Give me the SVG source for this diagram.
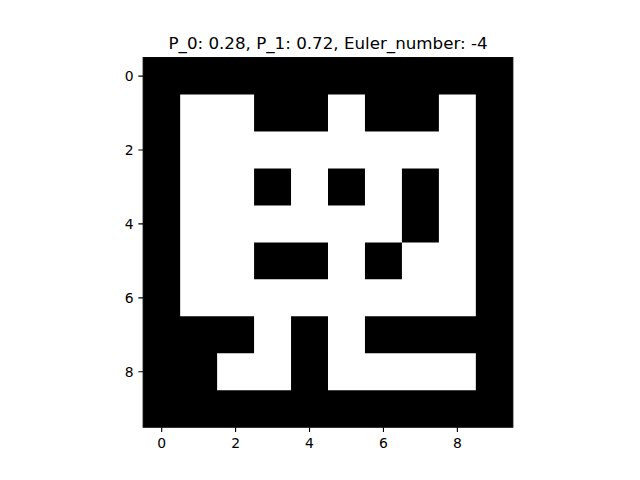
<svg xmlns="http://www.w3.org/2000/svg" width="640" height="480" viewBox="0 0 640 480">
<style>
text{font-family:"DejaVu Sans",sans-serif;fill:#000}
.tl{font-size:13.9px}
.tick{stroke:#000;stroke-width:1.11}
</style>
<rect width="640" height="480" fill="#fff"/>
<g id="image">
<rect x="143.2" y="57.6" width="369.6" height="369.6" fill="#000"/>
<path transform="translate(143.2 57.6) scale(36.96)" fill="#fff" d="M1,1h2v1h-2z M5,1h1v1h-1z M8,1h1v1h-1z M1,2h8v1h-8z M1,3h2v1h-2z M4,3h1v1h-1z M6,3h1v1h-1z M8,3h1v1h-1z M1,4h6v1h-6z M8,4h1v1h-1z M1,5h2v1h-2z M5,5h1v1h-1z M7,5h2v1h-2z M1,6h8v1h-8z M3,7h1v1h-1z M5,7h1v1h-1z M2,8h2v1h-2z M5,8h4v1h-4z"/>
<rect x="143.2" y="57.6" width="369.6" height="369.6" fill="none" stroke="#000" stroke-width="1.11"/>
</g>
<g id="xaxis">
<path class="tick" d="M161.68,427.2v4.86 M235.6,427.2v4.86 M309.52,427.2v4.86 M383.44,427.2v4.86 M457.36,427.2v4.86"/>
<g class="tl" text-anchor="middle">
<text x="161.68" y="448">0</text>
<text x="235.6" y="448">2</text>
<text x="309.52" y="448">4</text>
<text x="383.44" y="448">6</text>
<text x="457.36" y="448">8</text>
</g>
</g>
<g id="yaxis">
<path class="tick" d="M138.34,76.08h4.86 M138.34,150h4.86 M138.34,223.92h4.86 M138.34,297.84h4.86 M138.34,371.76h4.86"/>
<g class="tl" text-anchor="end">
<text x="133.5" y="81.1">0</text>
<text x="133.5" y="155">2</text>
<text x="133.5" y="228.9">4</text>
<text x="133.5" y="302.8">6</text>
<text x="133.5" y="376.8">8</text>
</g>
</g>
<text id="title" x="328" y="49.3" text-anchor="middle" font-size="16.7">P_0: 0.28, P_1: 0.72, Euler_number: -4</text>
</svg>
